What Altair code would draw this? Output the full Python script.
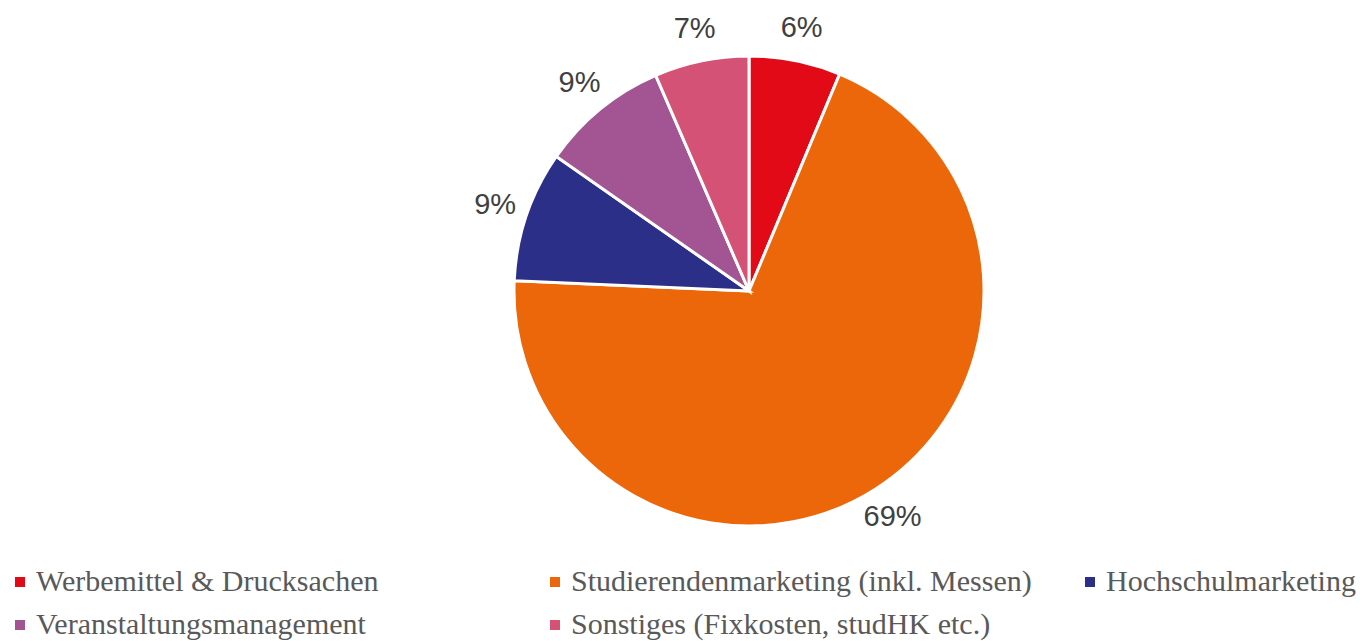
import altair as alt
import pandas as pd

categories = [
    "Werbemittel & Drucksachen",
    "Studierendenmarketing (inkl. Messen)",
    "Hochschulmarketing",
    "Veranstaltungsmanagement",
    "Sonstiges (Fixkosten, studHK etc.)",
]
values = [6.3, 69.4, 9.0, 8.8, 6.5]
labels = ["6%", "69%", "9%", "9%", "7%"]
colors = ["#E20A16", "#EB6709", "#2C2F87", "#A35493", "#D35275"]
legend_col = [0, 1, 2, 0, 1]
legend_row = [0, 0, 0, 1, 1]

df = pd.DataFrame({
    "cat": categories,
    "value": values,
    "label": labels,
    "order": list(range(len(categories))),
    "col": legend_col,
    "row": legend_row,
})

color = alt.Color("cat:N", scale=alt.Scale(domain=categories, range=colors), legend=None)
base = alt.Chart(df)

cx, cy = 741, 283

pie = base.mark_arc(outerRadius=235, stroke="white", strokeWidth=3).encode(
    theta=alt.Theta("value:Q", stack=True),
    color=color,
    order=alt.Order("order:Q"),
    x=alt.value(cx),
    y=alt.value(cy),
)

pie_text = base.mark_text(
    radius=268, font="Liberation Sans", fontSize=29, color="#404040"
).encode(
    theta=alt.Theta("value:Q", stack=True),
    order=alt.Order("order:Q"),
    text="label:N",
    x=alt.value(cx),
    y=alt.value(cy),
)

xs = alt.X("col:Q", scale=alt.Scale(domain=[0, 2], range=[12, 1082]), axis=None)
ys = alt.Y("row:Q", scale=alt.Scale(domain=[0, 1], range=[574, 617]), axis=None)

leg_sq = base.mark_square(size=100, opacity=1).encode(x=xs, y=ys, color=color)
leg_txt = base.mark_text(
    align="left", baseline="middle", dx=16, font="Liberation Serif",
    fontSize=30, color="#595959"
).encode(x=xs, y=ys, text="cat:N")

chart = alt.layer(pie, pie_text, leg_sq, leg_txt).properties(
    width=1350, height=633, padding=0, autosize="none"
).configure_view(stroke=None)

chart.save("out.html", embed_options={"renderer": "svg", "actions": False})
